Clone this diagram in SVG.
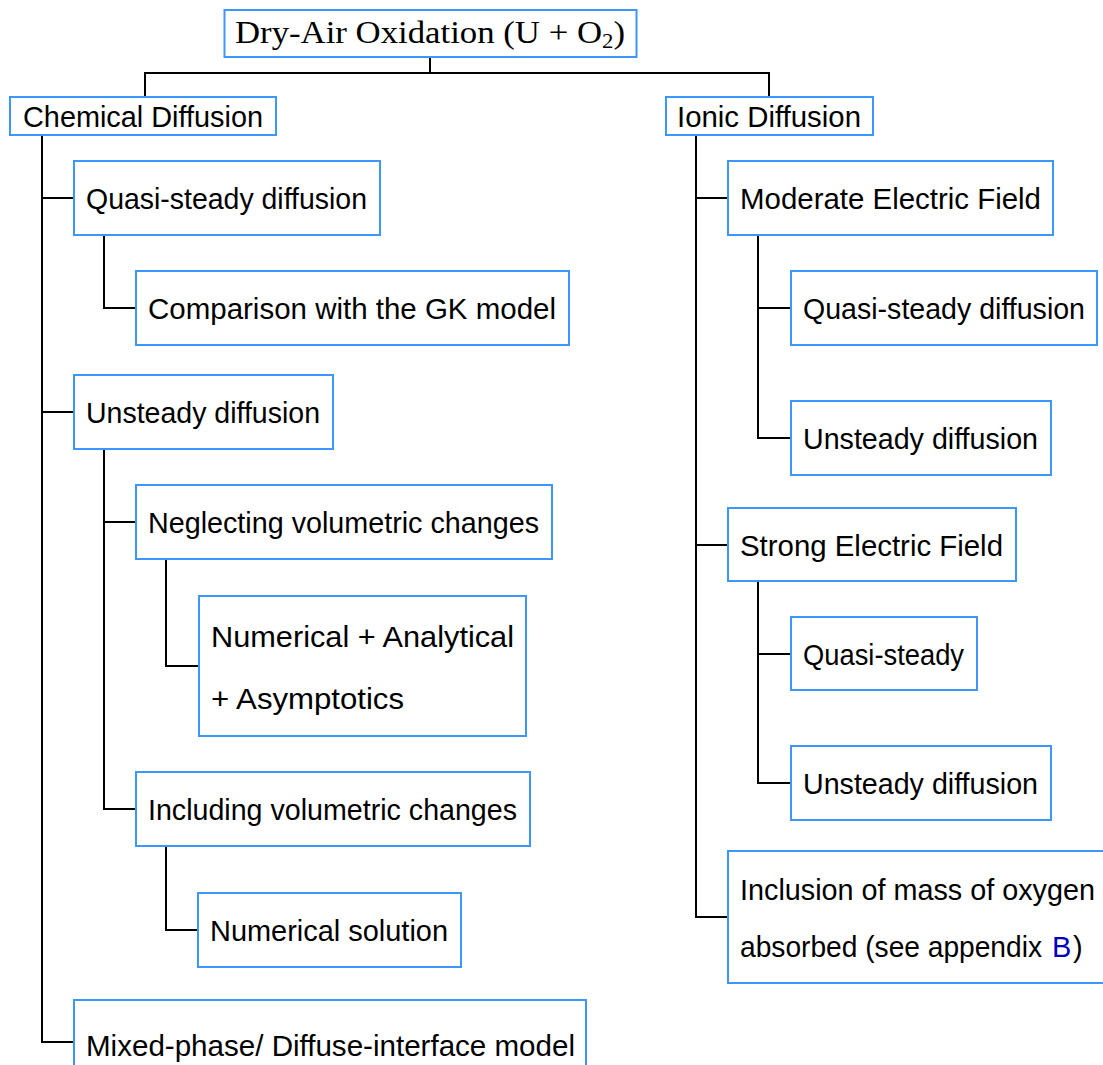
<svg xmlns="http://www.w3.org/2000/svg" width="1103" height="1065" viewBox="0 0 1103 1065">
<style>
.box{fill:#fff;stroke:#3d97fa;stroke-width:2}
.t{font-family:"Liberation Sans",Arial,sans-serif;font-size:29px;fill:#000}
.s{font-family:"Liberation Serif","Times New Roman",serif;font-size:32px;fill:#000}
.c{fill:none;stroke:#000;stroke-width:2}
.lnk{fill:#0000c0}
</style>
<rect width="1103" height="1065" fill="#fff"/>
<g id="connectors">
<path class="c" d="M430 57V73M145 97V73H769V97"/>
<path class="c" d="M42 135V1042H74M42 198H74M42 412H74"/>
<path class="c" d="M104 235V308H136"/>
<path class="c" d="M104 449V809H136M104 522H136"/>
<path class="c" d="M166 559V666H199"/>
<path class="c" d="M166 846V930H198"/>
<path class="c" d="M696 135V917H728M696 198H728M696 545H728"/>
<path class="c" d="M758 235V438H791M758 308H791"/>
<path class="c" d="M758 581V783H791M758 654H791"/>
</g>
<g id="root"><rect class="box" x="224.5" y="10" width="412" height="47"/><text class="s" x="235" y="43" textLength="390" lengthAdjust="spacingAndGlyphs">Dry-Air Oxidation (U + O<tspan font-size="21" dy="5">2</tspan><tspan dy="-5">)</tspan></text></g>
<g id="chem"><rect class="box" x="10" y="97" width="266" height="38"/><text class="t" x="23" y="127" textLength="240" lengthAdjust="spacingAndGlyphs">Chemical Diffusion</text></g>
<g id="ionic"><rect class="box" x="666" y="97" width="207" height="38"/><text class="t" x="677" y="127" textLength="184" lengthAdjust="spacingAndGlyphs">Ionic Diffusion</text></g>
<g id="qs"><rect class="box" x="74" y="161" width="306" height="74"/><text class="t" x="86" y="209" textLength="281" lengthAdjust="spacingAndGlyphs">Quasi-steady diffusion</text></g>
<g id="comp"><rect class="box" x="136" y="271" width="433" height="74"/><text class="t" x="148" y="319" textLength="408" lengthAdjust="spacingAndGlyphs">Comparison with the GK model</text></g>
<g id="unst"><rect class="box" x="74" y="375" width="259" height="74"/><text class="t" x="86" y="423" textLength="234" lengthAdjust="spacingAndGlyphs">Unsteady diffusion</text></g>
<g id="negl"><rect class="box" x="136" y="485" width="416" height="74"/><text class="t" x="148" y="533" textLength="391" lengthAdjust="spacingAndGlyphs">Neglecting volumetric changes</text></g>
<g id="numan"><rect class="box" x="199" y="596" width="327" height="140"/><text class="t" x="211" y="647" textLength="303" lengthAdjust="spacingAndGlyphs">Numerical + Analytical</text><text class="t" x="211" y="709" textLength="193" lengthAdjust="spacingAndGlyphs">+ Asymptotics</text></g>
<g id="incl"><rect class="box" x="136" y="772" width="394" height="74"/><text class="t" x="148" y="820" textLength="369" lengthAdjust="spacingAndGlyphs">Including volumetric changes</text></g>
<g id="numsol"><rect class="box" x="198" y="893" width="263" height="74"/><text class="t" x="210" y="941" textLength="238" lengthAdjust="spacingAndGlyphs">Numerical solution</text></g>
<g id="mixed"><rect class="box" x="74" y="1000" width="512" height="74"/><text class="t" x="86" y="1056" textLength="489" lengthAdjust="spacingAndGlyphs">Mixed-phase/ Diffuse-interface model</text></g>
<g id="mod"><rect class="box" x="728" y="161" width="325" height="74"/><text class="t" x="740" y="209" textLength="301" lengthAdjust="spacingAndGlyphs">Moderate Electric Field</text></g>
<g id="qs2"><rect class="box" x="791" y="271" width="306" height="74"/><text class="t" x="803" y="319" textLength="282" lengthAdjust="spacingAndGlyphs">Quasi-steady diffusion</text></g>
<g id="un2"><rect class="box" x="791" y="401" width="260" height="74"/><text class="t" x="803" y="449" textLength="235" lengthAdjust="spacingAndGlyphs">Unsteady diffusion</text></g>
<g id="strong"><rect class="box" x="728" y="508" width="288" height="73"/><text class="t" x="740" y="556" textLength="263" lengthAdjust="spacingAndGlyphs">Strong Electric Field</text></g>
<g id="qs3"><rect class="box" x="791" y="617" width="186" height="73"/><text class="t" x="803" y="665" textLength="161" lengthAdjust="spacingAndGlyphs">Quasi-steady</text></g>
<g id="un3"><rect class="box" x="791" y="746" width="260" height="74"/><text class="t" x="803" y="794" textLength="235" lengthAdjust="spacingAndGlyphs">Unsteady diffusion</text></g>
<g id="inclO"><rect class="box" x="728" y="851" width="400" height="132"/><text class="t" x="740" y="900" textLength="355" lengthAdjust="spacingAndGlyphs">Inclusion of mass of oxygen</text><text class="t" x="740" y="957" textLength="302" lengthAdjust="spacingAndGlyphs">absorbed (see appendix</text><text class="t lnk" x="1052" y="957">B</text><text class="t" x="1073" y="957">)</text></g>
</svg>
